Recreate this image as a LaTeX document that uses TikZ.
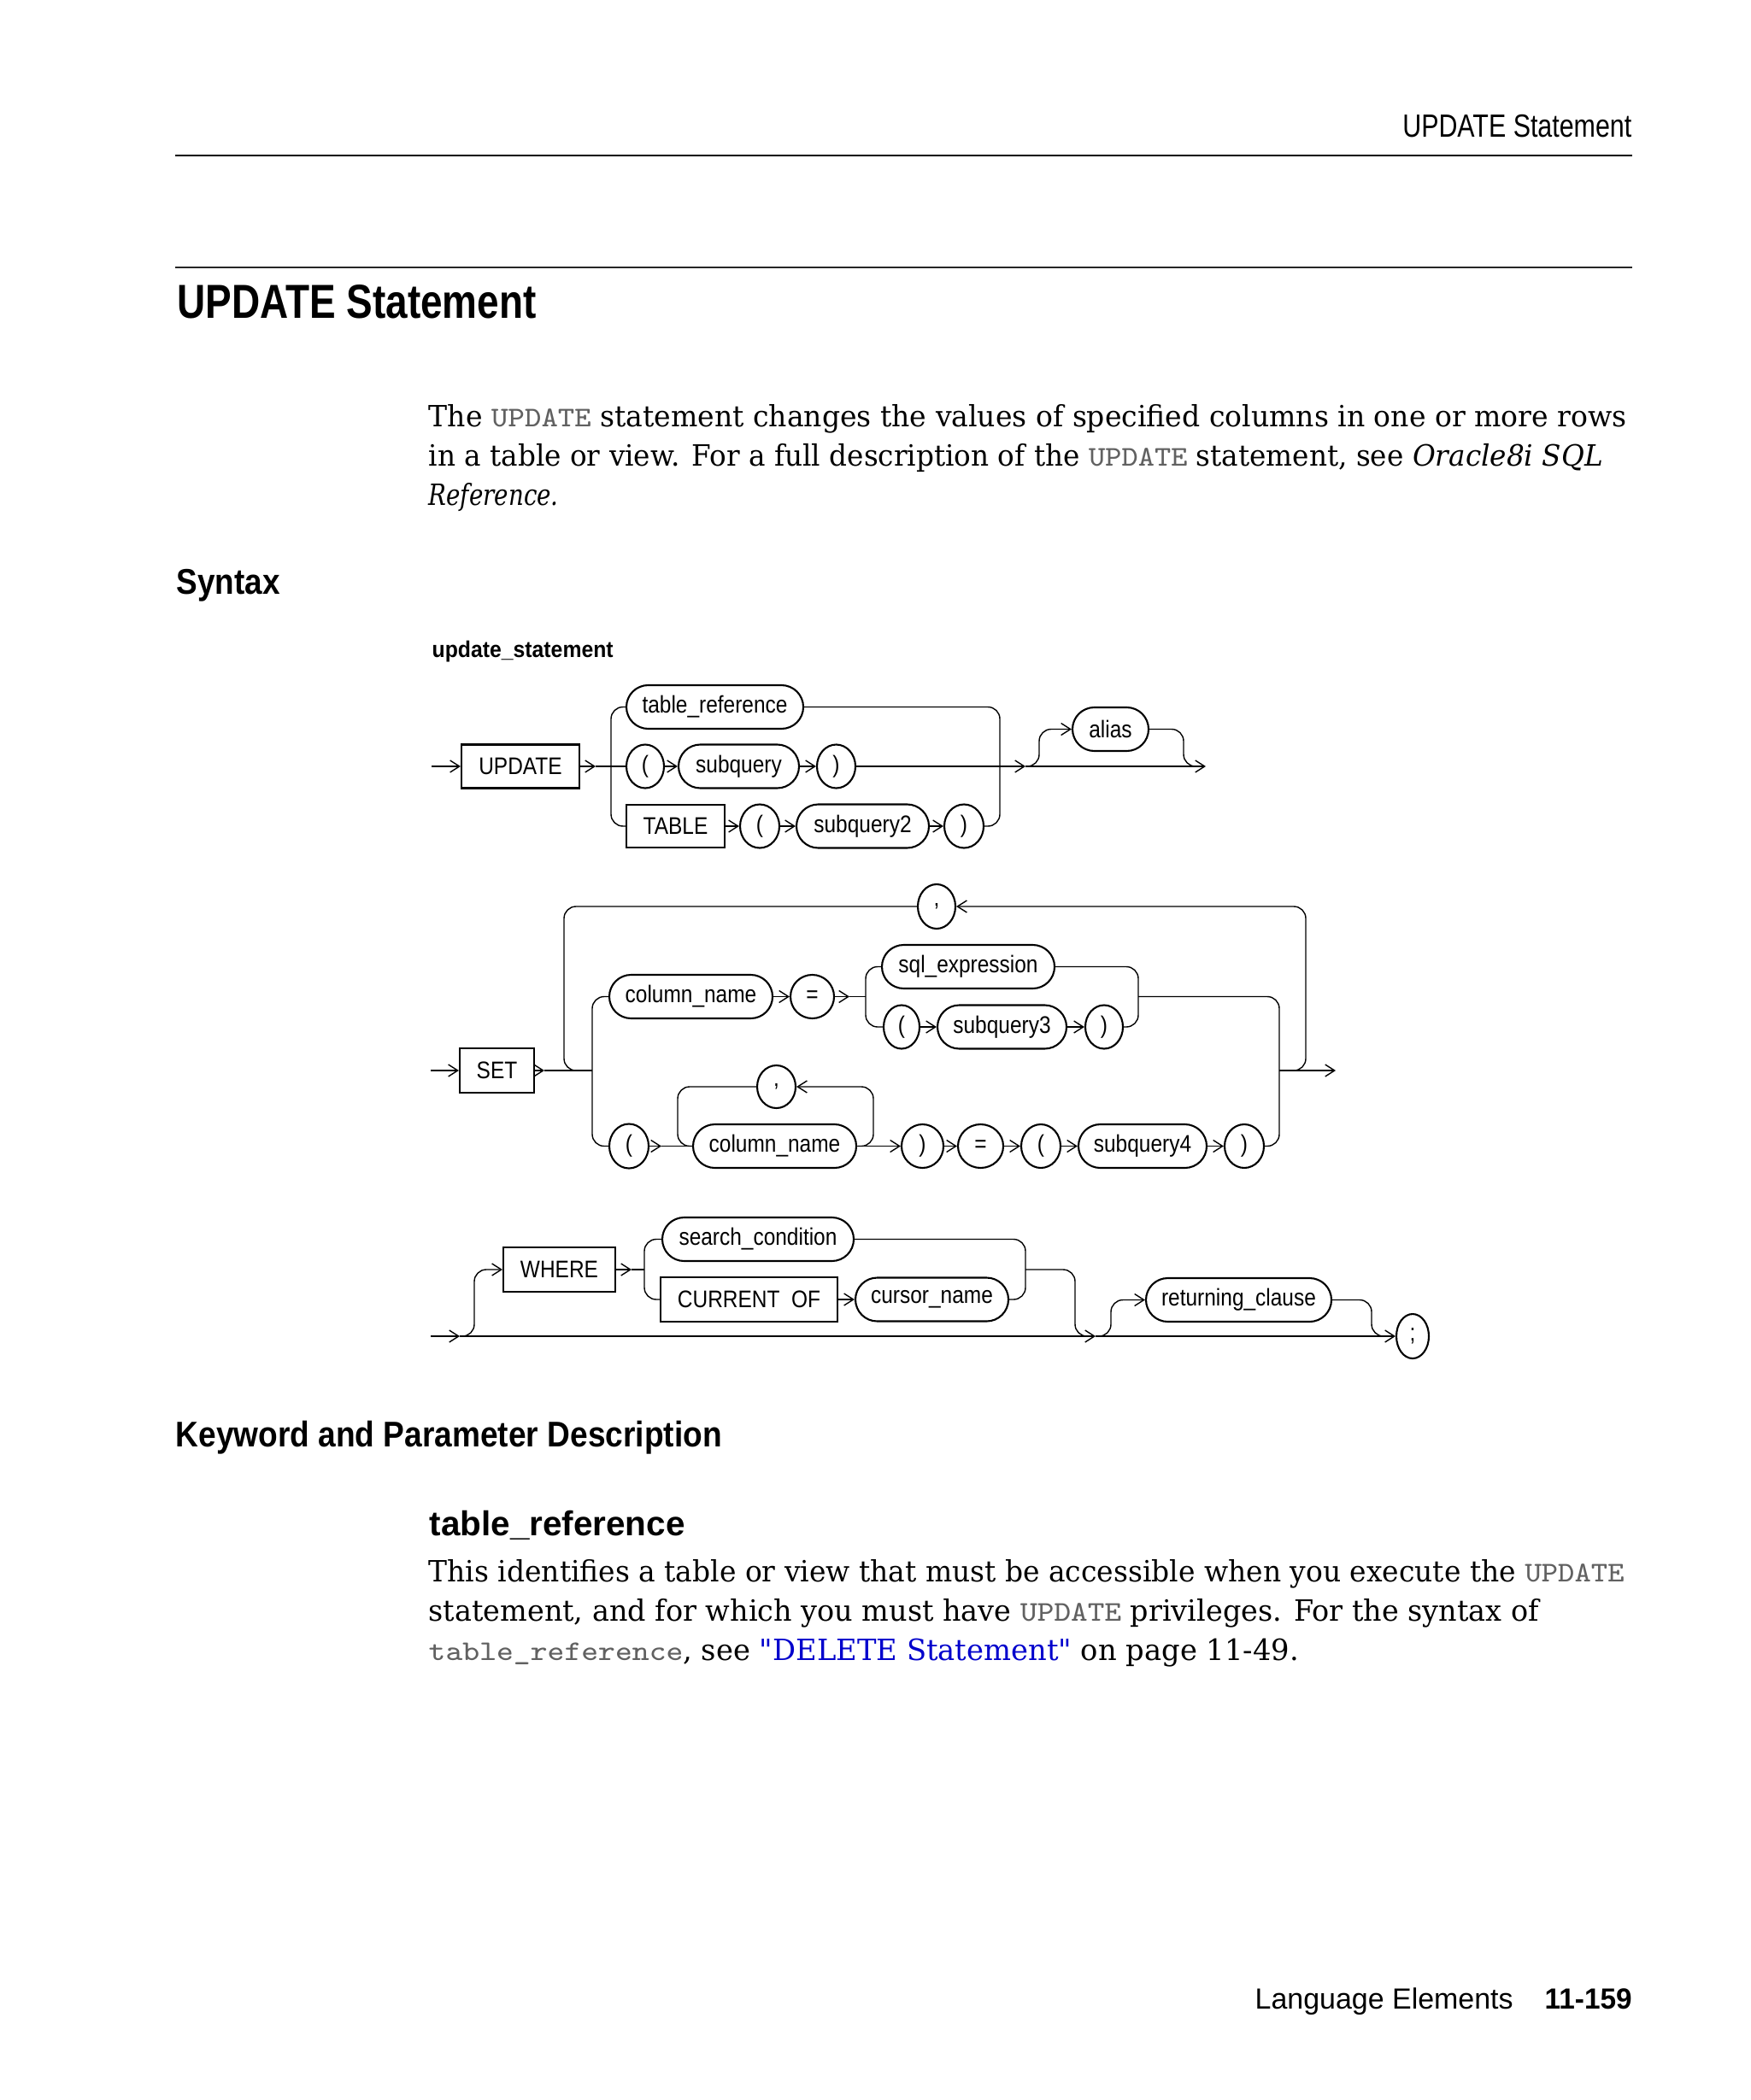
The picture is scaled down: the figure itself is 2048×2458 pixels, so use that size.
\documentclass[tikz,border=0pt]{standalone}
\usepackage{fontspec}
\usepackage{graphicx}
\usetikzlibrary{shapes.geometric,shapes.misc,arrows.meta}
\setmainfont{DejaVu Serif}
\newfontfamily\qfont{DejaVu Serif}[Ligatures=TeXOff]
\newfontfamily\sansf{Liberation Sans}
\newfontfamily\diagf[FakeStretch=0.87]{Liberation Sans}
\newfontfamily\monof[FakeStretch=1.15]{Latin Modern Mono}
\newlength\px \setlength\px{0.1mm}
\newcommand\fitw[2]{\resizebox{#1\px}{\height}{#2}}
\newcommand\mono[1]{{\monof\fontsize{9.5pt}{13pt}\selectfont\color{black!62}#1}}
\definecolor{linkblue}{RGB}{0,0,204}
\tikzset{
  dfont/.style={font=\diagf\fontsize{8pt}{9pt}\selectfont},
  tbox/.style={draw, line width=0.6pt, rectangle, inner sep=0pt, minimum height=51\px, dfont},
  ntbox/.style={draw, line width=0.6pt, rounded rectangle, inner sep=0pt, minimum height=51\px, dfont},
  obox/.style={draw, line width=0.6pt, ellipse, inner sep=0pt, minimum height=51\px, dfont},
  ln/.style={line width=0.4pt},
  ar/.style={ln, -{Straight Barb[length=1.1mm, width=1.4mm]}},
  rc/.style={ln, rounded corners=1.4mm},
  rca/.style={rc, -{Straight Barb[length=1.1mm, width=1.4mm]}},
  txt/.style={inner sep=0pt, anchor=base west},
  body/.style={txt, font=\fontsize{9.75pt}{13pt}\selectfont},
  hsans/.style={txt, font=\sansf\bfseries\fontsize{11.9pt}{14pt}\selectfont},
}
\begin{document}
\begin{tikzpicture}[x=1\px, y=-1\px]
\fill[white] (0,0) rectangle (2048,2458);
\useasboundingbox (0,0) rectangle (2048,2458);

% ---------- page header ----------
\node[inner sep=0pt, anchor=base east, font=\sansf\fontsize{10.7pt}{12pt}\selectfont] (hdr) at (1910,161) {\fitw{268}{UPDATE Statement}};
\draw[line width=0.2mm] (205,182) -- (1910,182);
\draw[line width=0.25mm, black!85] (205,313) -- (1910,313);
\node[txt, font=\sansf\bfseries\fontsize{15.9pt}{18pt}\selectfont] (title) at (207,373) {\fitw{420}{UPDATE Statement}};

% ---------- intro paragraph ----------
\node[body] (p1a) at (501,500) {\fitw{1402}{The \mono{UPDATE} statement changes the values of specified columns in one or more rows}};
\node[body] (p1b) at (501,546) {\fitw{1374}{in a table or view. For a full description of the \mono{UPDATE} statement, see \textit{Oracle8i SQL}}};
\node[body] (p1c) at (501,592) {\fitw{152}{\textit{Reference.}}};

\node[hsans] (syn) at (206,695) {\fitw{121}{Syntax}};
\node[txt, font=\sansf\bfseries\fontsize{7.6pt}{9pt}\selectfont] (ulab) at (505,769) {\fitw{212}{update\_statement}};

% ---------- diagram row 1 ----------
\node[tbox, minimum width=138\px] (upd) at (609,897) {UPDATE};
\node[ntbox, minimum width=207\px] (tref) at (836.5,827.5) {table\_reference};
\node[obox, minimum width=44\px] (lp1) at (755,897) {(};
\node[ntbox, minimum width=141\px] (sq1) at (864.5,897) {subquery};
\node[obox, minimum width=45\px] (rp1) at (978.5,897) {)};
\node[tbox, minimum width=115\px, minimum height=50\px] (tbl) at (790.5,967) {TABLE};
\node[obox, minimum width=46\px] (lp2) at (889,967) {(};
\node[ntbox, minimum width=155\px] (sq2) at (1009.5,967) {subquery2};
\node[obox, minimum width=46\px] (rp2) at (1128,967) {)};
\node[ntbox, minimum width=89\px] (alias) at (1299.5,853.5) {alias};

\coordinate (s1) at (505,897);
\coordinate (a1) at (697,897);
\coordinate (b1) at (715,897);
\coordinate (m1) at (1200,897);
\coordinate (e1) at (1411,897);

\draw[ar] (s1) -- (upd.west);
\draw[ar] (upd.east) -- (a1);
\draw[ln] (a1) -- (lp1.west);
\draw[rc] (tref.west) -- (715,827.5) -- (715,967) -- (tbl.west);
\draw[ar] (lp1.east) -- (sq1.west);
\draw[ar] (sq1.east) -- (rp1.west);
\draw[ar] (rp1.east) -- (m1);
\draw[ar] (m1) -- (e1);
\draw[rc] (tref.east) -- (1170,827.5) -- (1170,967) -- (rp2.east);
\draw[ar] (tbl.east) -- (lp2.west);
\draw[ar] (lp2.east) -- (sq2.west);
\draw[ar] (sq2.east) -- (rp2.west);
\draw[rca] (m1) -- (1216,897) -- (1216,853.5) -- (alias.west);
\draw[rc] (alias.east) -- (1385,853.5) -- (1385,897) -- (1402,897);

% ---------- diagram row 2 ----------
\node[tbox, minimum width=87\px, minimum height=52\px] (set) at (581.5,1253) {SET};
\node[obox, minimum width=44\px, minimum height=52\px] (cm1) at (1096,1061) {,};
\node[ntbox, minimum width=191\px] (cn1) at (808.5,1166.5) {column\_name};
\node[obox, minimum width=51\px] (eq1) at (950.5,1166.5) {=};
\node[ntbox, minimum width=202\px] (sqe) at (1133,1131.5) {sql\_expression};
\node[obox, minimum width=42\px] (lp3) at (1055,1202) {(};
\node[ntbox, minimum width=151\px] (sq3) at (1172.5,1202) {subquery3};
\node[obox, minimum width=44\px] (rp3) at (1292,1202) {)};
\node[obox, minimum width=46\px, minimum height=52\px] (lp4) at (736,1341.5) {(};
\node[obox, minimum width=45\px, minimum height=50\px] (cm2) at (908.5,1272) {,};
\node[ntbox, minimum width=191\px] (cn2) at (906.5,1341.5) {column\_name};
\node[obox, minimum width=49\px] (rp4) at (1079.5,1341.5) {)};
\node[obox, minimum width=53\px] (eq2) at (1147.5,1341.5) {=};
\node[obox, minimum width=46\px] (lp5) at (1218,1341.5) {(};
\node[ntbox, minimum width=150\px] (sq4) at (1337,1341.5) {subquery4};
\node[obox, minimum width=46\px] (rp5) at (1456,1341.5) {)};

\coordinate (s2) at (504,1253);
\coordinate (a2) at (637,1253);
\coordinate (b2) at (693,1253);
\coordinate (a3) at (994,1166.5);
\coordinate (b3) at (1013,1166.5);
\coordinate (c3) at (1332,1166.5);
\coordinate (x2) at (1497,1253);
\coordinate (e2) at (1563,1253);
\coordinate (a4) at (774,1341.5);

\draw[ar] (s2) -- (set.west);
\draw[ar] (set.east) -- (a2);
\draw[ln] (a2) -- (b2);
\draw[rc] (cm1.west) -- (660,1061) -- (660,1253) -- (680,1253);
\draw[rca] (1510,1253) -- (1528,1253) -- (1528,1061) -- (cm1.east);
\draw[rc] (cn1.west) -- (693,1166.5) -- (693,1341.5) -- (lp4.west);
\draw[ar] (cn1.east) -- (eq1.west);
\draw[ar] (eq1.east) -- (a3);
\draw[ln] (a3) -- (b3);
\draw[rc] (sqe.west) -- (1013,1131.5) -- (1013,1202) -- (lp3.west);
\draw[ar] (lp3.east) -- (sq3.west);
\draw[ar] (sq3.east) -- (rp3.west);
\draw[rc] (sqe.east) -- (1332,1131.5) -- (1332,1202) -- (rp3.east);
\draw[rc] (c3) -- (1497,1166.5) -- (1497,1341.5) -- (rp5.east);
\draw[ar] (x2) -- (e2);
\draw[ar] (lp4.east) -- (a4);
\draw[ln] (a4) -- (cn2.west);
\draw[rc] (cm2.west) -- (793,1272) -- (793,1341.5) -- (811,1341.5);
\draw[rca] (1004,1341.5) -- (1022,1341.5) -- (1022,1272) -- (cm2.east);
\draw[ar] (cn2.east) -- (rp4.west);
\draw[ar] (rp4.east) -- (eq2.west);
\draw[ar] (eq2.east) -- (lp5.west);
\draw[ar] (lp5.east) -- (sq4.west);
\draw[ar] (sq4.east) -- (rp5.west);

% ---------- diagram row 3 ----------
\node[tbox, minimum width=131\px, minimum height=52\px] (where) at (654.5,1486) {WHERE};
\node[ntbox, minimum width=224\px] (sc) at (887,1450.5) {search\_condition};
\node[tbox, minimum width=207\px, minimum height=52\px] (cur) at (876.5,1521) {CURRENT~~OF};
\node[ntbox, minimum width=179\px] (curn) at (1090.5,1521) {cursor\_name};
\node[ntbox, minimum width=217\px] (ret) at (1449.5,1521.5) {returning\_clause};
\node[obox, minimum width=38\px, minimum height=52\px] (semi) at (1653,1564) {;};

\coordinate (s3) at (504,1564);
\coordinate (a5) at (538,1564);
\coordinate (a6) at (739,1486);
\coordinate (b6) at (754,1486);
\coordinate (c6) at (1200,1486);
\coordinate (m3) at (1282,1564);

\draw[ar] (s3) -- (a5);
\draw[ar] (a5) -- (m3);
\draw[ar] (m3) -- (semi.west);
\draw[rca] (a5) -- (555,1564) -- (555,1486) -- (where.west);
\draw[ar] (where.east) -- (a6);
\draw[ln] (a6) -- (b6);
\draw[rc] (sc.west) -- (754,1450.5) -- (754,1521) -- (cur.west);
\draw[ar] (cur.east) -- (curn.west);
\draw[rc] (sc.east) -- (1200,1450.5) -- (1200,1521) -- (curn.east);
\draw[rc] (c6) -- (1258,1486) -- (1258,1564) -- (1276,1564);
\draw[rca] (m3) -- (1300,1564) -- (1300,1521.5) -- (ret.west);
\draw[rc] (ret.east) -- (1605,1521.5) -- (1605,1564) -- (1622,1564);

% ---------- keyword section ----------
\node[hsans] (kwh) at (205,1693) {\fitw{639}{Keyword and Parameter Description}};
\node[txt, font=\sansf\bfseries\fontsize{11.5pt}{14pt}\selectfont] (trh) at (502,1797) {\fitw{299}{table\_reference}};
\node[body] (p2a) at (501,1851) {\fitw{1399}{This identifies a table or view that must be accessible when you execute the \mono{UPDATE}}};
\node[body] (p2b) at (501,1897) {\fitw{1299}{statement, and for which you must have \mono{UPDATE} privileges. For the syntax of}};
\node[body] (p2c) at (501,1943) {\fitw{1018}{\mono{table\_reference}, see {\color{linkblue}{\qfont"}DELETE Statement{\qfont"}} on page 11-49.}};

% ---------- footer ----------
\node[txt, font=\sansf\fontsize{9.7pt}{12pt}\selectfont] (ft1) at (1468,2351) {\fitw{302}{Language Elements}};
\node[txt, font=\sansf\bfseries\fontsize{9.7pt}{12pt}\selectfont] (ft2) at (1807,2351) {\fitw{102}{11-159}};
\end{tikzpicture}
\end{document}
